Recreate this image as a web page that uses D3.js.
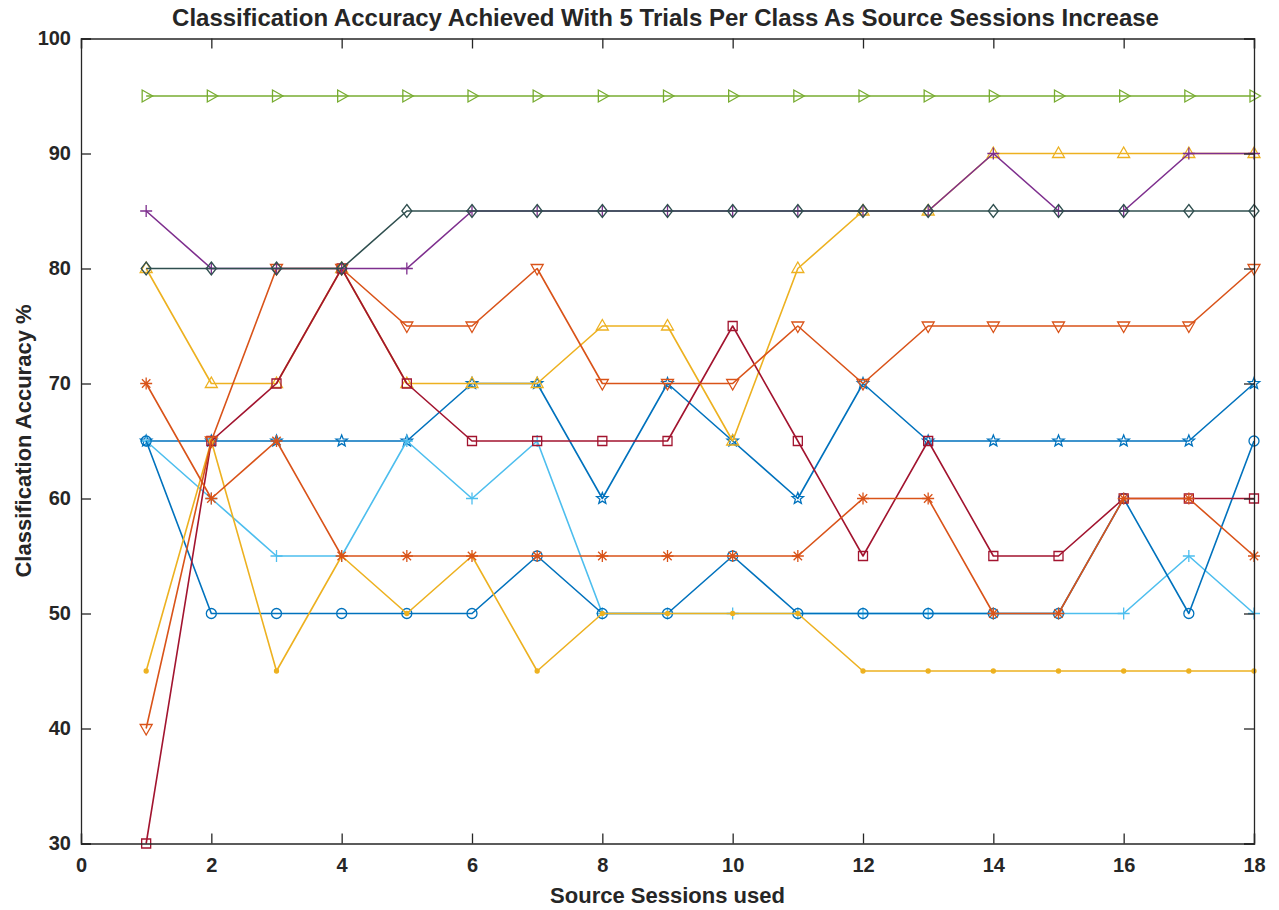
<!DOCTYPE html>
<html>
<head>
<meta charset="utf-8">
<script src="https://cdn.jsdelivr.net/npm/d3@7"></script>
<style>
  body { margin: 0; background: #ffffff; }
  svg { display: block; }
  text { font-family: "Liberation Sans", Arial, sans-serif; font-weight: bold; fill: #262626; }
</style>
</head>
<body>
<svg id="chart" width="1279" height="910"></svg>
<script>
// Number of source sessions on the x axis
const sessions = [1, 2, 3, 4, 5, 6, 7, 8, 9, 10, 11, 12, 13, 14, 15, 16, 17, 18];
const xTickValues = [0, 2, 4, 6, 8, 10, 12, 14, 16, 18];
const yTickValues = [30, 40, 50, 60, 70, 80, 90, 100];

// Classification accuracy (%) per subject
const accStarBlue     = [65, 65, 65, 65, 65, 70, 70, 60, 70, 65, 60, 70, 65, 65, 65, 65, 65, 70];
const accPlusCyan     = [65, 60, 55, 55, 65, 60, 65, 50, 50, 50, 50, 50, 50, 50, 50, 50, 55, 50];
const accCircleBlue   = [65, 50, 50, 50, 50, 50, 55, 50, 50, 55, 50, 50, 50, 50, 50, 60, 50, 65];
const accPointYellow  = [45, 65, 45, 55, 50, 55, 45, 50, 50, 50, 50, 45, 45, 45, 45, 45, 45, 45];
const accTriUpYellow  = [80, 70, 70, 80, 70, 70, 70, 75, 75, 65, 80, 85, 85, 90, 90, 90, 90, 90];
const accSquareRed    = [30, 65, 70, 80, 70, 65, 65, 65, 65, 75, 65, 55, 65, 55, 55, 60, 60, 60];
const accAsterOrange  = [70, 60, 65, 55, 55, 55, 55, 55, 55, 55, 55, 60, 60, 50, 50, 60, 60, 55];
const accTriDnOrange  = [40, 65, 80, 80, 75, 75, 80, 70, 70, 70, 75, 70, 75, 75, 75, 75, 75, 80];
const accPlusPurple   = [85, 80, 80, 80, 80, 85, 85, 85, 85, 85, 85, 85, 85, 90, 85, 85, 90, 90];
const accDiamondSlate = [80, 80, 80, 80, 85, 85, 85, 85, 85, 85, 85, 85, 85, 85, 85, 85, 85, 85];
const accTriRtGreen   = [95, 95, 95, 95, 95, 95, 95, 95, 95, 95, 95, 95, 95, 95, 95, 95, 95, 95];

// Drawing order: later entries are painted on top
const series = [
  { values: accStarBlue,     color: "#0072BD", marker: "pentagram" },
  { values: accPlusCyan,     color: "#4DBEEE", marker: "plus" },
  { values: accCircleBlue,   color: "#0072BD", marker: "circle" },
  { values: accPointYellow,  color: "#EDB120", marker: "point" },
  { values: accTriUpYellow,  color: "#EDB120", marker: "triUp" },
  { values: accSquareRed,    color: "#A2142F", marker: "square" },
  { values: accAsterOrange,  color: "#D95319", marker: "asterisk" },
  { values: accTriDnOrange,  color: "#D95319", marker: "triDown" },
  { values: accPlusPurple,   color: "#7E2F8E", marker: "plus" },
  { values: accDiamondSlate, color: "#2F4F4F", marker: "diamond" },
  { values: accTriRtGreen,   color: "#77AC30", marker: "triRight" }
];

const svg = d3.select("#chart");
const plot = { left: 81, right: 1254, top: 38.5, bottom: 843.5 };
const axisColor = "#262626";

const x = d3.scaleLinear().domain([0, 18]).range([plot.left, plot.right]);
const y = d3.scaleLinear().domain([30, 100]).range([plot.bottom, plot.top]);

// Marker shapes, drawn around (0,0)
function markerPath(kind) {
  const p = d3.path();
  switch (kind) {
    case "circle":
      p.arc(0, 0, 5, 0, 2 * Math.PI); break;
    case "square":
      p.rect(-4.5, -4.5, 9, 9); break;
    case "diamond":
      p.moveTo(0, -6.5); p.lineTo(5, 0); p.lineTo(0, 6.5); p.lineTo(-5, 0); p.closePath(); break;
    case "triUp":
      p.moveTo(0, -6.5); p.lineTo(6, 4); p.lineTo(-6, 4); p.closePath(); break;
    case "triDown":
      p.moveTo(0, 6.5); p.lineTo(6, -4); p.lineTo(-6, -4); p.closePath(); break;
    case "triRight":
      p.moveTo(6.5, 0); p.lineTo(-4, 6); p.lineTo(-4, -6); p.closePath(); break;
    case "plus":
      p.moveTo(-6, 0); p.lineTo(6, 0); p.moveTo(0, -6); p.lineTo(0, 6); break;
    case "asterisk": {
      const d = 4.2;
      p.moveTo(-6, 0); p.lineTo(6, 0); p.moveTo(0, -6); p.lineTo(0, 6);
      p.moveTo(-d, -d); p.lineTo(d, d); p.moveTo(-d, d); p.lineTo(d, -d);
      break;
    }
    case "pentagram": {
      const ro = 6, ri = 2.6;
      for (let i = 0; i < 10; i++) {
        const r = i % 2 === 0 ? ro : ri;
        const a = -Math.PI / 2 + i * Math.PI / 5;
        const px = r * Math.cos(a), py = r * Math.sin(a);
        if (i === 0) p.moveTo(px, py); else p.lineTo(px, py);
      }
      p.closePath();
      break;
    }
    case "point":
      p.arc(0, 0, 2, 0, 2 * Math.PI); break;
  }
  return p.toString();
}

const line = d3.line()
  .x((d, i) => x(sessions[i]))
  .y(d => y(d));

const dataLayer = svg.append("g");

series.forEach(s => {
  const g = dataLayer.append("g");
  g.append("path")
    .datum(s.values)
    .attr("d", line)
    .attr("fill", "none")
    .attr("stroke", s.color)
    .attr("stroke-width", 1.6)
    .attr("stroke-linejoin", "round");
  g.selectAll("path.mk")
    .data(s.values)
    .join("path")
    .attr("class", "mk")
    .attr("transform", (d, i) => `translate(${x(sessions[i])},${y(d)})`)
    .attr("d", markerPath(s.marker))
    .attr("fill", s.marker === "point" ? s.color : "none")
    .attr("stroke", s.color)
    .attr("stroke-width", 1.3);
});

// Axes: ticks point inward on all four sides
const tickLen = 10;
const xAxisBottom = d3.axisBottom(x).tickValues(xTickValues).tickSize(-tickLen).tickPadding(14).tickFormat(d3.format("d"));
const xAxisTop = d3.axisTop(x).tickValues(xTickValues).tickSize(-tickLen).tickFormat("");
const yAxisLeft = d3.axisLeft(y).tickValues(yTickValues).tickSize(-tickLen).tickPadding(10).tickFormat(d3.format("d"));
const yAxisRight = d3.axisRight(y).tickValues(yTickValues).tickSize(-tickLen).tickFormat("");

function styleAxis(g) {
  g.selectAll(".domain").attr("stroke", axisColor).attr("stroke-width", 1.3);
  g.selectAll(".tick line").attr("stroke", axisColor).attr("stroke-width", 1.3);
  g.selectAll(".tick text").attr("fill", axisColor)
    .style("font-family", '"Liberation Sans", Arial, sans-serif')
    .style("font-weight", "bold").style("font-size", "20px");
}

svg.append("g").attr("transform", `translate(0,${plot.bottom})`).call(xAxisBottom).call(styleAxis);
svg.append("g").attr("transform", `translate(0,${plot.top})`).call(xAxisTop).call(styleAxis);
svg.append("g").attr("transform", `translate(${plot.left},0)`).call(yAxisLeft).call(styleAxis);
svg.append("g").attr("transform", `translate(${plot.right},0)`).call(yAxisRight).call(styleAxis);

// Titles
svg.append("text")
  .attr("x", (plot.left + plot.right) / 2 - 2)
  .attr("y", 26)
  .attr("text-anchor", "middle")
  .style("font-size", "24px")
  .text("Classification Accuracy Achieved With 5 Trials Per Class As Source Sessions Increase");

svg.append("text")
  .attr("x", (plot.left + plot.right) / 2)
  .attr("y", 903)
  .attr("text-anchor", "middle")
  .style("font-size", "22px")
  .text("Source Sessions used");

svg.append("text")
  .attr("transform", `translate(31,${(plot.top + plot.bottom) / 2}) rotate(-90)`)
  .attr("text-anchor", "middle")
  .style("font-size", "22px")
  .text("Classification Accuracy %");
</script>
</body>
</html>
